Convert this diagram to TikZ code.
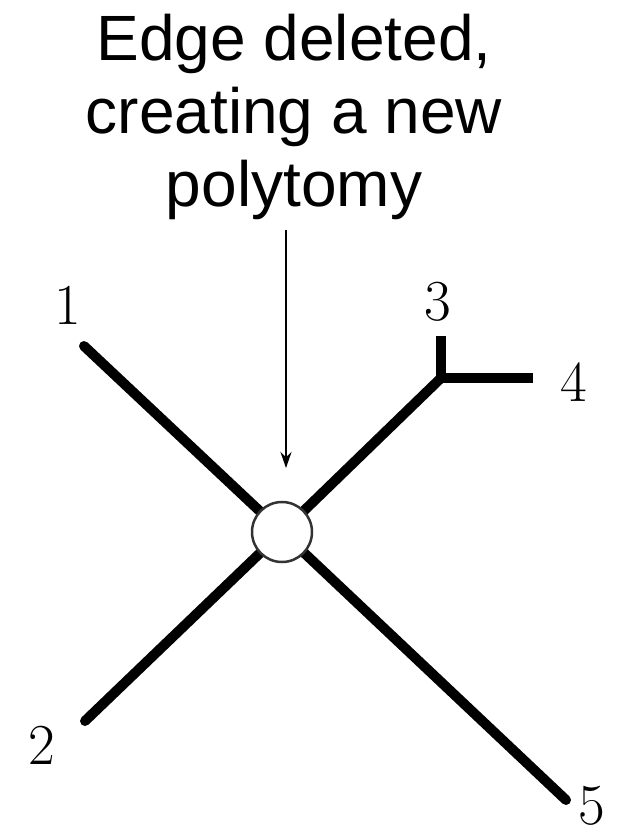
\documentclass[tikz,border=0pt]{standalone}
\usepackage{fontspec}
\newfontfamily\headfont{Liberation Sans}
\usetikzlibrary{arrows.meta}

\begin{document}
\begin{tikzpicture}[x=1pt, y=-1pt,
    branch/.style={line width=10pt, line cap=round},
    leaf/.style={font=\fontsize{58}{58}\selectfont, inner sep=0pt},
    hub/.style={circle, draw=black!80, line width=2.5pt, fill=white, minimum size=60pt, inner sep=0pt}]

    \useasboundingbox (0,0) rectangle (617,838);

    % caption and pointer
    \node[font=\headfont\fontsize{64}{73}\selectfont, align=center, anchor=north, inner sep=0pt]
        (note) at (294,14) {Edge deleted,\\creating a new\\polytomy};
    \coordinate (tail) at (286,230);
    \coordinate (tip) at (286,468);

    % tree, branches first so the hub sits on top
    \coordinate (mid) at (282,532);
    \coordinate (j34) at (441,378);
    \coordinate (t1) at (84,346);
    \coordinate (t2) at (85,721);
    \coordinate (t3) at (441,336);
    \coordinate (t4) at (533,378);
    \coordinate (t5) at (566,800);

    \draw[branch] (mid) -- (t1);
    \draw[branch] (mid) -- (t2);
    \draw[branch] (mid) -- (t5);
    \draw[branch] (mid) -- (j34);
    \draw[branch, line cap=butt] (j34) -- (t3);
    \draw[branch, line cap=butt] (j34) -- (t4);
    \fill (j34) circle (5pt);
    \node[hub] (c) at (mid) {};

    \draw[line width=2.5pt, -{Stealth[length=16pt, width=11pt]}] (tail) -- (tip);

    \node[leaf] (l1) at (68,305) {1};
    \node[leaf] (l2) at (42,745) {2};
    \node[leaf] (l3) at (438,302) {3};
    \node[leaf] (l4) at (574,382) {4};
    \node[leaf] (l5) at (592,806) {5};

\end{tikzpicture}
\end{document}
